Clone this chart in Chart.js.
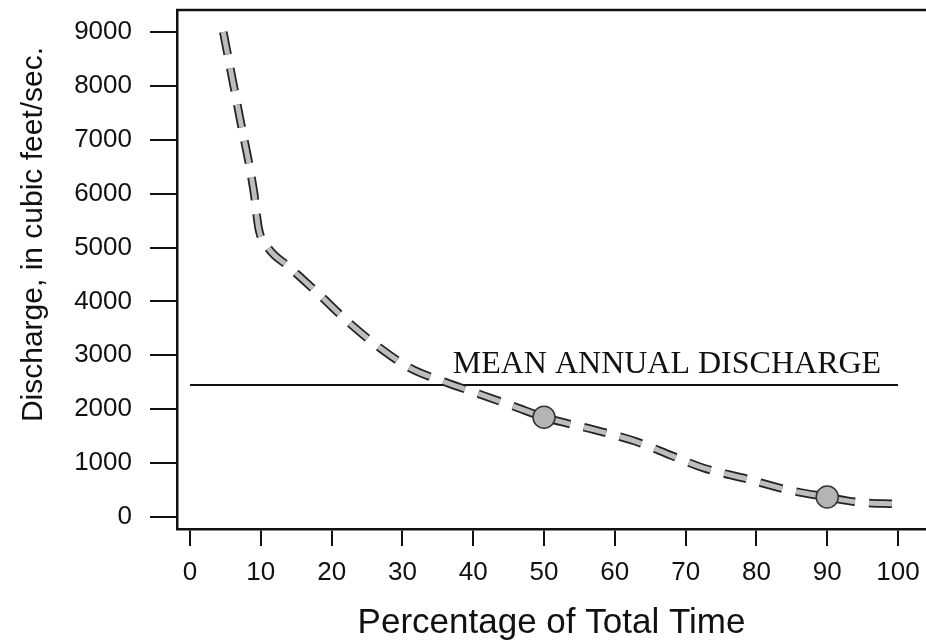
<!DOCTYPE html>
<html>
<head>
<meta charset="utf-8">
<title>Flow duration curve</title>
<script src="https://cdn.jsdelivr.net/npm/chart.js@4.4.0/dist/chart.umd.min.js"></script>
<style>
    html, body { margin: 0; padding: 0; background: #fff; }
    #chart { display: block; }
</style>
</head>
<body>
<canvas id="chart" width="926" height="644"></canvas>
<script>
// flow duration curve
const timePct = [4.7, 7, 9, 9.7, 11, 14, 18, 22, 26, 31, 36, 41, 46, 50, 57, 63, 68, 72.5, 78.7, 84, 90, 94, 100];
const discharge = [9000, 7430, 6050, 5350, 5000, 4640, 4160, 3660, 3220, 2770, 2505, 2275, 2040, 1850, 1620, 1400, 1140, 910, 705, 515, 370, 280, 240];

// the two dots marked on the curve
const markPct = [50, 90];
const markDischarge = [1850, 370];

const meanAnnualDischarge = 2450;
const meanLineRange = [0, 100];

const xTicks = [0, 10, 20, 30, 40, 50, 60, 70, 80, 90, 100];
const yTicks = [0, 1000, 2000, 3000, 4000, 5000, 6000, 7000, 8000, 9000];

const sans = '"Liberation Sans", Arial, sans-serif';
const serif = '"Liberation Serif", "Times New Roman", serif';
const ink = '#111';

document.addEventListener('DOMContentLoaded', () => {
    drawChart();
});

// top frame line, the mean line caption and the rotated y title
const chartExtras = {
    id: 'chartExtras',
    afterDraw(chart) {
        const { ctx, chartArea, scales } = chart;
        ctx.save();

        ctx.strokeStyle = ink;
        ctx.lineWidth = 2.5;
        ctx.beginPath();
        ctx.moveTo(chartArea.left - 1, chartArea.top);
        ctx.lineTo(chartArea.right, chartArea.top);
        ctx.stroke();

        ctx.fillStyle = ink;
        ctx.font = '32px ' + serif;
        ctx.textAlign = 'left';
        ctx.textBaseline = 'alphabetic';
        ctx.fillText('MEAN ANNUAL DISCHARGE',
            scales.x.getPixelForValue(37.1),
            scales.y.getPixelForValue(meanAnnualDischarge) - 12);

        ctx.translate(42, (chartArea.top + chartArea.bottom) / 2 - 35);
        ctx.rotate(-Math.PI / 2);
        ctx.textAlign = 'center';
        ctx.font = '30px ' + sans;
        ctx.fillText('Discharge, in cubic feet/sec.', 0, 0);

        ctx.restore();
    }
};

function drawChart() {
    const curve = timePct.map((x, i) => ({ x: x, y: discharge[i] }));
    const marks = markPct.map((x, i) => ({ x: x, y: markDischarge[i] }));
    const mean = meanLineRange.map(x => ({ x: x, y: meanAnnualDischarge }));

    const ctx = document.getElementById('chart').getContext('2d');
    new Chart(ctx, {
        type: 'line',
        data: {
            datasets: [
                {
                    label: 'marks',
                    data: marks,
                    showLine: false,
                    pointRadius: 11,
                    pointBackgroundColor: '#b4b4b4',
                    pointBorderColor: '#333',
                    pointBorderWidth: 1.5,
                    order: 0
                },
                {
                    label: 'curve',
                    data: curve,
                    borderColor: '#bdbdbd',
                    borderWidth: 5,
                    borderDash: [23, 14],
                    borderCapStyle: 'butt',
                    cubicInterpolationMode: 'monotone',
                    pointRadius: 0,
                    order: 1
                },
                {
                    label: 'curve outline',
                    data: curve,
                    borderColor: '#222',
                    borderWidth: 8.5,
                    borderDash: [23, 14],
                    borderCapStyle: 'butt',
                    cubicInterpolationMode: 'monotone',
                    pointRadius: 0,
                    order: 2
                },
                {
                    label: 'mean annual discharge',
                    data: mean,
                    borderColor: ink,
                    borderWidth: 2,
                    pointRadius: 0,
                    order: 3
                }
            ]
        },
        options: {
            responsive: false,
            animation: false,
            layout: {
                autoPadding: false,
                padding: { top: 10, right: 0, bottom: 0, left: 0 }
            },
            plugins: {
                legend: { display: false },
                tooltip: { enabled: false }
            },
            scales: {
                x: {
                    type: 'linear',
                    min: -1.84,
                    max: 103.95,
                    afterBuildTicks: s => { s.ticks = xTicks.map(v => ({ value: v })); },
                    afterFit: s => {
                        s.height = 115;
                        s.paddingLeft = 0;
                        s.paddingRight = 0;
                    },
                    grid: {
                        drawOnChartArea: false,
                        drawTicks: true,
                        tickLength: 17,
                        color: ink,
                        lineWidth: 2
                    },
                    border: { display: true, color: ink, width: 2.5 },
                    ticks: {
                        color: ink,
                        font: { family: sans, size: 26 },
                        padding: 11,
                        maxRotation: 0,
                        autoSkip: false,
                        callback: v => String(v)
                    },
                    title: {
                        display: true,
                        text: 'Percentage of Total Time',
                        color: ink,
                        font: { family: sans, size: 35 },
                        padding: { top: 0, bottom: 0 }
                    }
                },
                y: {
                    type: 'linear',
                    min: -223,
                    max: 9408,
                    afterBuildTicks: s => { s.ticks = yTicks.map(v => ({ value: v })); },
                    afterFit: s => {
                        s.width = 177;
                        s.paddingTop = 0;
                        s.paddingBottom = 0;
                    },
                    grid: {
                        drawOnChartArea: false,
                        drawTicks: true,
                        tickLength: 27,
                        color: ink,
                        lineWidth: 2
                    },
                    border: { display: true, color: ink, width: 2.5 },
                    ticks: {
                        color: ink,
                        font: { family: sans, size: 26 },
                        padding: 18,
                        autoSkip: false,
                        callback: v => String(v)
                    }
                }
            }
        },
        plugins: [chartExtras]
    });
}
</script>
</body>
</html>
